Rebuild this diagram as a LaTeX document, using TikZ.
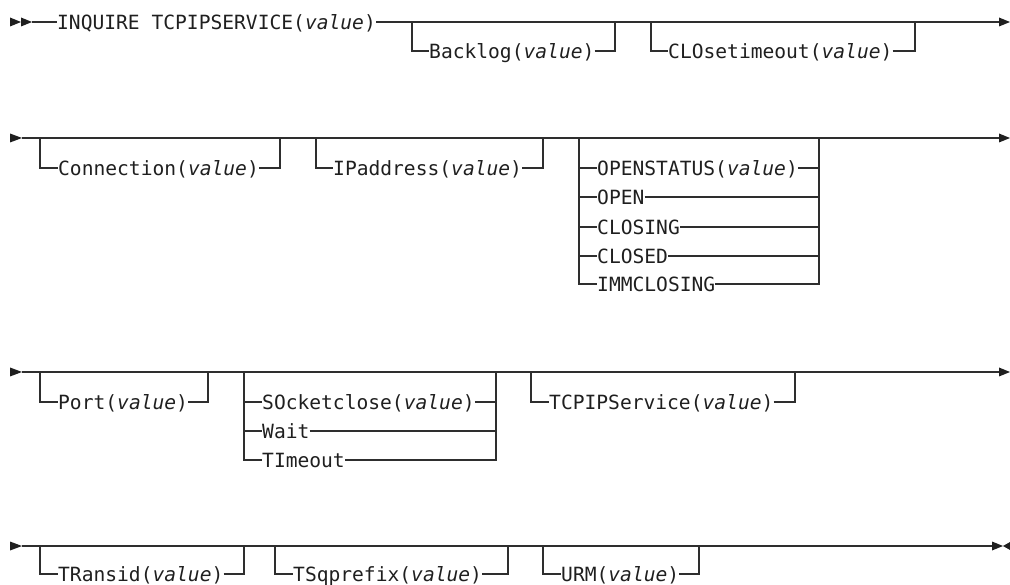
\documentclass[tikz,border=0pt]{standalone}
\usepackage{fontspec}
\setmonofont{DejaVu Sans Mono}
\newcommand\myval{\textit{value}}
\begin{document}
\begin{tikzpicture}[x=1pt,y=-1pt,
  lbl/.style={inner sep=0pt, anchor=west, text height=14.3pt, text depth=0pt,
    font=\fontsize{19.6}{20}\selectfont\ttfamily, text=black!88},
  rail/.style={draw=black!82, line width=1.3pt},
  tri/.style={fill=black!88, draw=none}]
\useasboundingbox (0,0) rectangle (1010,585);

% ---------------- Row 1 ----------------
\fill[tri] (10,17.5) -- (21,22) -- (10,26.5) -- cycle;
\fill[tri] (21,17.5) -- (32,22) -- (21,26.5) -- cycle;
\coordinate (s1) at (32,22);
\node[lbl] (inq) at (57,22) {INQUIRE TCPIPSERVICE(\myval)};
\coordinate (e1) at (999,22);
\draw[rail] (s1) -- (inq.west);
\draw[rail] (inq.east) -- (e1);
\fill[tri] (999,17.5) -- (1010,22) -- (999,26.5) -- cycle;

\node[lbl] (backlog) at (429,51) {Backlog(\myval)};
\coordinate (backlogL) at (412,22); \coordinate (backlogR) at (615,22);
\draw[rail] (backlogL) |- (backlog.west);
\draw[rail] (backlog.east) -| (backlogR);

\node[lbl] (clo) at (668,51) {CLOsetimeout(\myval)};
\coordinate (cloL) at (651,22); \coordinate (cloR) at (915,22);
\draw[rail] (cloL) |- (clo.west);
\draw[rail] (clo.east) -| (cloR);

% ---------------- Row 2 ----------------
\fill[tri] (10,133.5) -- (22,138) -- (10,142.5) -- cycle;
\coordinate (s2) at (22,138);
\coordinate (e2) at (999,138);
\draw[rail] (s2) -- (e2);
\fill[tri] (999,133.5) -- (1010,138) -- (999,142.5) -- cycle;

\node[lbl] (conn) at (58,168) {Connection(\myval)};
\coordinate (connL) at (40,138); \coordinate (connR) at (280,138);
\draw[rail] (connL) |- (conn.west);
\draw[rail] (conn.east) -| (connR);

\node[lbl] (ipa) at (333,168) {IPaddress(\myval)};
\coordinate (ipaL) at (316,138); \coordinate (ipaR) at (543,138);
\draw[rail] (ipaL) |- (ipa.west);
\draw[rail] (ipa.east) -| (ipaR);

\coordinate (osL) at (579,138); \coordinate (osR) at (819,138);
\node[lbl] (ost) at (597,168) {OPENSTATUS(\myval)};
\node[lbl] (open) at (597,197) {OPEN};
\node[lbl] (closing) at (597,227) {CLOSING};
\node[lbl] (closed) at (597,256) {CLOSED};
\node[lbl] (imm) at (597,284) {IMMCLOSING};
\draw[rail] (osL) |- (imm.west);
\draw[rail] (osR) |- (imm.east);
\foreach \n in {ost,open,closing,closed}{
  \draw[rail] (osL |- \n.west) -- (\n.west);
  \draw[rail] (\n.east) -- (osR |- \n.east);
}

% ---------------- Row 3 ----------------
\fill[tri] (10,367.5) -- (22,372) -- (10,376.5) -- cycle;
\coordinate (s3) at (22,372);
\coordinate (e3) at (999,372);
\draw[rail] (s3) -- (e3);
\fill[tri] (999,367.5) -- (1010,372) -- (999,376.5) -- cycle;

\node[lbl] (port) at (58,402) {Port(\myval)};
\coordinate (portL) at (40,372); \coordinate (portR) at (208,372);
\draw[rail] (portL) |- (port.west);
\draw[rail] (port.east) -| (portR);

\coordinate (soL) at (244,372); \coordinate (soR) at (496,372);
\node[lbl] (sock) at (262,402) {SOcketclose(\myval)};
\node[lbl] (wait) at (262,431) {Wait};
\node[lbl] (tim) at (262,460) {TImeout};
\draw[rail] (soL) |- (tim.west);
\draw[rail] (soR) |- (tim.east);
\foreach \n in {sock,wait}{
  \draw[rail] (soL |- \n.west) -- (\n.west);
  \draw[rail] (\n.east) -- (soR |- \n.east);
}

\node[lbl] (tcps) at (549,402) {TCPIPService(\myval)};
\coordinate (tcpsL) at (531,372); \coordinate (tcpsR) at (795,372);
\draw[rail] (tcpsL) |- (tcps.west);
\draw[rail] (tcps.east) -| (tcpsR);

% ---------------- Row 4 ----------------
\fill[tri] (10,541.5) -- (22,546) -- (10,550.5) -- cycle;
\coordinate (s4) at (22,546);
\coordinate (e4) at (992,546);
\draw[rail] (s4) -- (e4);
\fill[tri] (992,541.5) -- (1003,546) -- (992,550.5) -- cycle;
\fill[tri] (1011,541.5) -- (1003,546) -- (1011,550.5) -- cycle;

\node[lbl] (tran) at (58,574) {TRansid(\myval)};
\coordinate (tranL) at (40,546); \coordinate (tranR) at (244,546);
\draw[rail] (tranL) |- (tran.west);
\draw[rail] (tran.east) -| (tranR);

\node[lbl] (tsq) at (293,574) {TSqprefix(\myval)};
\coordinate (tsqL) at (275,546); \coordinate (tsqR) at (508,546);
\draw[rail] (tsqL) |- (tsq.west);
\draw[rail] (tsq.east) -| (tsqR);

\node[lbl] (urm) at (561,574) {URM(\myval)};
\coordinate (urmL) at (543,546); \coordinate (urmR) at (699,546);
\draw[rail] (urmL) |- (urm.west);
\draw[rail] (urm.east) -| (urmR);
\end{tikzpicture}
\end{document}
